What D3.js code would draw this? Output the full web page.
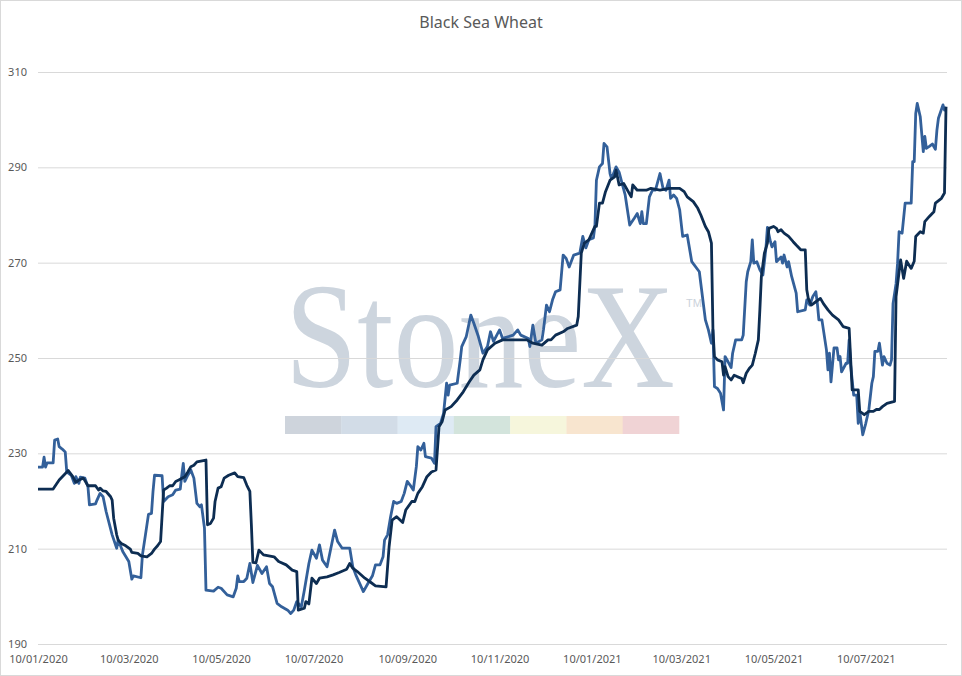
<!DOCTYPE html>
<html>
<head>
<meta charset="utf-8">
<script src="https://cdn.jsdelivr.net/npm/d3@7"></script>
<style>
  html, body { margin: 0; padding: 0; background: #fff; }
  svg { display: block; }
</style>
</head>
<body>
<div id="chart"></div>
<script>
// Black Sea Wheat — two series
const chartTitle = "Black Sea Wheat";

const yTicks = [190, 210, 230, 250, 270, 290, 310];
const xTickLabels = ["10/01/2020", "10/03/2020", "10/05/2020", "10/07/2020", "10/09/2020",
    "10/11/2020", "10/01/2021", "10/03/2021", "10/05/2021", "10/07/2021"];
const dateRange = ["2020-01-10", "2021-09-01"];

// lighter blue series
const blueSeries = [
    ["2020-01-10", 227.1], ["2020-01-13", 227.1], ["2020-01-14", 229.2], ["2020-01-15", 227.1],
    ["2020-01-16", 228], ["2020-01-20", 228], ["2020-01-21", 232.8], ["2020-01-23", 233],
    ["2020-01-24", 231.4], ["2020-01-26", 230.9], ["2020-01-28", 230.3], ["2020-01-29", 226.1],
    ["2020-02-01", 225.4], ["2020-02-03", 223.7], ["2020-02-04", 225.1], ["2020-02-06", 223.7],
    ["2020-02-07", 225], ["2020-02-10", 224.8], ["2020-02-12", 223], ["2020-02-13", 219.2],
    ["2020-02-17", 219.4], ["2020-02-18", 220.2], ["2020-02-20", 221.6], ["2020-02-22", 220.9],
    ["2020-02-24", 217.8], ["2020-02-28", 212.9], ["2020-03-02", 210.1], ["2020-03-03", 211.8],
    ["2020-03-06", 209.4], ["2020-03-10", 207.3], ["2020-03-12", 203.6], ["2020-03-13", 204.3],
    ["2020-03-18", 203.9], ["2020-03-19", 208.7], ["2020-03-21", 212.9], ["2020-03-23", 217.2],
    ["2020-03-25", 217.4], ["2020-03-26", 222], ["2020-03-27", 225.4], ["2020-04-01", 225.3],
    ["2020-04-02", 219.9], ["2020-04-05", 220.9], ["2020-04-08", 221.3], ["2020-04-10", 222.3],
    ["2020-04-13", 222.5], ["2020-04-14", 225.4], ["2020-04-15", 227.9], ["2020-04-16", 224.1],
    ["2020-04-18", 225.4], ["2020-04-20", 226.5], ["2020-04-22", 224.8], ["2020-04-24", 219.5],
    ["2020-04-26", 218.8], ["2020-04-27", 219.2], ["2020-04-29", 214.3], ["2020-04-30", 201.3],
    ["2020-05-05", 201.1], ["2020-05-08", 201.9], ["2020-05-10", 201.7], ["2020-05-14", 200.3],
    ["2020-05-18", 199.9], ["2020-05-20", 201.7], ["2020-05-21", 204.3], ["2020-05-22", 203.1],
    ["2020-05-25", 203.1], ["2020-05-27", 203.8], ["2020-05-29", 206.9], ["2020-05-31", 202.9],
    ["2020-06-03", 206.5], ["2020-06-06", 204.8], ["2020-06-09", 206.2], ["2020-06-11", 202.7],
    ["2020-06-13", 202], ["2020-06-16", 198.5], ["2020-06-19", 197.8], ["2020-06-23", 197.1],
    ["2020-06-25", 196.4], ["2020-06-27", 197.1], ["2020-06-29", 198.9], ["2020-07-02", 197.8],
    ["2020-07-04", 201.3], ["2020-07-07", 206.9], ["2020-07-09", 209.7], ["2020-07-12", 208],
    ["2020-07-14", 210.8], ["2020-07-16", 207.6], ["2020-07-19", 206.2], ["2020-07-24", 213.9],
    ["2020-07-26", 211.5], ["2020-07-29", 210.1], ["2020-08-03", 210.1], ["2020-08-05", 206.2],
    ["2020-08-07", 204.5], ["2020-08-10", 202.4], ["2020-08-12", 201], ["2020-08-15", 202.7],
    ["2020-08-18", 204.3], ["2020-08-20", 206.6], ["2020-08-23", 206.6], ["2020-08-25", 208.3],
    ["2020-08-26", 211.8], ["2020-08-28", 212.9], ["2020-08-30", 216.7], ["2020-09-01", 219.9],
    ["2020-09-03", 219.5], ["2020-09-06", 219.9], ["2020-09-08", 221.6], ["2020-09-10", 224.1],
    ["2020-09-12", 223.3], ["2020-09-14", 222.3], ["2020-09-16", 227.2], ["2020-09-17", 231.4],
    ["2020-09-19", 230.7], ["2020-09-21", 232.1], ["2020-09-22", 229.3], ["2020-09-26", 229],
    ["2020-09-28", 227.9], ["2020-09-29", 235.6], ["2020-10-02", 236.3], ["2020-10-04", 238.4],
    ["2020-10-06", 244.7], ["2020-10-07", 242.2], ["2020-10-08", 244.3], ["2020-10-13", 244.7],
    ["2020-10-15", 249.6], ["2020-10-16", 252.4], ["2020-10-19", 254.5], ["2020-10-22", 259],
    ["2020-10-24", 257.3], ["2020-10-27", 254.5], ["2020-10-30", 251], ["2020-11-02", 252.4],
    ["2020-11-04", 255.5], ["2020-11-06", 253.5], ["2020-11-10", 255.9], ["2020-11-12", 254.1],
    ["2020-11-19", 254.8], ["2020-11-22", 255.9], ["2020-11-24", 254.8], ["2020-11-29", 254.1],
    ["2020-11-30", 252.4], ["2020-12-02", 256.9], ["2020-12-04", 253.1], ["2020-12-08", 253.8],
    ["2020-12-09", 255.9], ["2020-12-11", 261.1], ["2020-12-13", 259.7], ["2020-12-15", 262.2],
    ["2020-12-17", 263.9], ["2020-12-20", 264.3], ["2020-12-22", 271.6], ["2020-12-24", 270.9],
    ["2020-12-26", 269.1], ["2020-12-29", 271.6], ["2021-01-02", 272], ["2021-01-04", 275.5],
    ["2021-01-06", 273.1], ["2021-01-08", 274.8], ["2021-01-11", 275.2], ["2021-01-12", 277.6],
    ["2021-01-13", 287.3], ["2021-01-15", 290.1], ["2021-01-17", 290.8], ["2021-01-18", 295],
    ["2021-01-20", 294.3], ["2021-01-22", 288.7], ["2021-01-23", 287.6], ["2021-01-26", 290.1],
    ["2021-01-28", 289], ["2021-01-30", 286.6], ["2021-02-01", 284.2], ["2021-02-03", 280],
    ["2021-02-04", 277.9], ["2021-02-07", 279.3], ["2021-02-09", 280.3], ["2021-02-11", 278.2],
    ["2021-02-12", 280.7], ["2021-02-13", 278.2], ["2021-02-15", 278.2], ["2021-02-17", 283.8],
    ["2021-02-19", 285.2], ["2021-02-21", 285.2], ["2021-02-24", 288.7], ["2021-02-26", 285.6],
    ["2021-02-28", 285.2], ["2021-03-02", 287.3], ["2021-03-03", 283.5], ["2021-03-05", 284.2],
    ["2021-03-07", 283.5], ["2021-03-09", 281.1], ["2021-03-11", 275.5], ["2021-03-14", 275.8],
    ["2021-03-17", 270.2], ["2021-03-22", 268.1], ["2021-03-26", 258], ["2021-03-28", 255.9],
    ["2021-03-30", 253.1], ["2021-03-31", 255.9], ["2021-04-01", 244], ["2021-04-03", 243.6],
    ["2021-04-05", 242.6], ["2021-04-07", 239.1], ["2021-04-08", 250.3], ["2021-04-10", 249.2],
    ["2021-04-12", 248], ["2021-04-13", 251], ["2021-04-15", 253.8], ["2021-04-19", 253.8],
    ["2021-04-20", 254.8], ["2021-04-22", 266], ["2021-04-23", 268.1], ["2021-04-25", 270.2],
    ["2021-04-26", 274.8], ["2021-04-27", 269.9], ["2021-04-29", 270.2], ["2021-05-01", 268.5],
    ["2021-05-03", 267.4], ["2021-05-05", 273], ["2021-05-06", 277.4], ["2021-05-08", 274.4],
    ["2021-05-09", 273.3], ["2021-05-11", 274.4], ["2021-05-12", 270.2], ["2021-05-15", 271.2],
    ["2021-05-16", 269.9], ["2021-05-17", 271.6], ["2021-05-19", 269.1], ["2021-05-20", 270.2],
    ["2021-05-22", 267.1], ["2021-05-25", 263.6], ["2021-05-26", 259.7], ["2021-05-31", 260.1],
    ["2021-06-01", 262.2], ["2021-06-03", 261.1], ["2021-06-05", 262.9], ["2021-06-07", 263.9],
    ["2021-06-08", 261.4], ["2021-06-09", 258], ["2021-06-11", 258], ["2021-06-12", 255.9],
    ["2021-06-14", 251.7], ["2021-06-15", 247.5], ["2021-06-16", 251], ["2021-06-17", 245],
    ["2021-06-19", 252.1], ["2021-06-21", 252.1], ["2021-06-22", 249.6], ["2021-06-23", 250.3],
    ["2021-06-24", 247.1], ["2021-06-27", 248.9], ["2021-06-28", 248.9], ["2021-06-29", 253.8],
    ["2021-06-30", 248.5], ["2021-07-02", 242.2], ["2021-07-04", 242.2], ["2021-07-05", 236.3],
    ["2021-07-06", 238.8], ["2021-07-08", 233.9], ["2021-07-10", 236.3], ["2021-07-12", 239.1],
    ["2021-07-14", 244.7], ["2021-07-15", 246.1], ["2021-07-16", 251.4], ["2021-07-18", 251.4],
    ["2021-07-19", 253.1], ["2021-07-21", 248.5], ["2021-07-22", 250.3], ["2021-07-24", 248.9],
    ["2021-07-26", 248.5], ["2021-07-27", 249.6], ["2021-07-28", 261.4], ["2021-07-30", 265.6],
    ["2021-07-31", 269.9], ["2021-08-01", 276.5], ["2021-08-03", 276.2], ["2021-08-05", 282.5],
    ["2021-08-09", 282.5], ["2021-08-10", 291.2], ["2021-08-11", 291.2], ["2021-08-12", 301.3],
    ["2021-08-13", 303.4], ["2021-08-15", 300.6], ["2021-08-17", 293.3], ["2021-08-18", 296.5],
    ["2021-08-19", 294], ["2021-08-21", 294.4], ["2021-08-23", 294.9], ["2021-08-25", 293.8],
    ["2021-08-26", 297.8], ["2021-08-27", 300.3], ["2021-08-30", 303.1], ["2021-08-31", 302],
    ["2021-09-01", 302.7]
];

// dark navy series
const navySeries = [
    ["2020-01-10", 222.5], ["2020-01-20", 222.5], ["2020-01-24", 224.4], ["2020-01-27", 225.4],
    ["2020-01-30", 226.4], ["2020-02-02", 225.1], ["2020-02-04", 223.9], ["2020-02-06", 224.4],
    ["2020-02-09", 224.8], ["2020-02-12", 223.2], ["2020-02-17", 223.2], ["2020-02-19", 222.3],
    ["2020-02-20", 222.7], ["2020-02-22", 222.1], ["2020-02-24", 222], ["2020-02-27", 220.9],
    ["2020-02-28", 220.2], ["2020-02-29", 216.4], ["2020-03-02", 212.9], ["2020-03-03", 211.8],
    ["2020-03-05", 211.1], ["2020-03-08", 210.6], ["2020-03-11", 209.9], ["2020-03-12", 209.2],
    ["2020-03-16", 209], ["2020-03-18", 208.5], ["2020-03-22", 208.3], ["2020-03-25", 209],
    ["2020-03-27", 209.9], ["2020-03-29", 210.6], ["2020-03-31", 211.5], ["2020-04-02", 222.3],
    ["2020-04-04", 222.7], ["2020-04-06", 223.2], ["2020-04-08", 223.2], ["2020-04-10", 224.1],
    ["2020-04-12", 224.4], ["2020-04-16", 225.1], ["2020-04-18", 226.1], ["2020-04-20", 227.2],
    ["2020-04-22", 227.5], ["2020-04-24", 228.2], ["2020-04-30", 228.6], ["2020-05-01", 215],
    ["2020-05-03", 215.3], ["2020-05-05", 216.4], ["2020-05-06", 219.9], ["2020-05-08", 222.7],
    ["2020-05-10", 223], ["2020-05-12", 224.8], ["2020-05-15", 225.4], ["2020-05-19", 225.9],
    ["2020-05-21", 225.1], ["2020-05-25", 224.9], ["2020-05-27", 223.3], ["2020-05-29", 222],
    ["2020-05-30", 215], ["2020-05-31", 207.1], ["2020-06-02", 207], ["2020-06-04", 209.7],
    ["2020-06-07", 208.7], ["2020-06-14", 208.3], ["2020-06-17", 207.3], ["2020-06-22", 206.6],
    ["2020-06-26", 205.5], ["2020-06-29", 205.2], ["2020-06-30", 197.1], ["2020-07-04", 197.5],
    ["2020-07-05", 198.9], ["2020-07-07", 198.4], ["2020-07-09", 203.8], ["2020-07-12", 202.7],
    ["2020-07-14", 203.8], ["2020-07-19", 204.1], ["2020-07-23", 204.5], ["2020-07-27", 205],
    ["2020-08-01", 205.7], ["2020-08-03", 206.9], ["2020-08-05", 205.9], ["2020-08-08", 205.2],
    ["2020-08-13", 203.8], ["2020-08-17", 202.9], ["2020-08-20", 202.2], ["2020-08-27", 202],
    ["2020-08-29", 210.4], ["2020-08-31", 216], ["2020-09-03", 216.7], ["2020-09-07", 215.5],
    ["2020-09-09", 218.1], ["2020-09-13", 219.9], ["2020-09-15", 219.9], ["2020-09-17", 221.6],
    ["2020-09-20", 223], ["2020-09-23", 225.1], ["2020-09-26", 226.1], ["2020-09-29", 226.5],
    ["2020-10-01", 235.6], ["2020-10-03", 236.6], ["2020-10-05", 239.1], ["2020-10-09", 239.8],
    ["2020-10-13", 241.2], ["2020-10-17", 242.9], ["2020-10-21", 245], ["2020-10-24", 246.4],
    ["2020-10-28", 247.5], ["2020-10-30", 249.6], ["2020-11-02", 251.7], ["2020-11-07", 253.1],
    ["2020-11-12", 253.8], ["2020-11-28", 253.8], ["2020-12-02", 253.1], ["2020-12-08", 252.7],
    ["2020-12-12", 253.8], ["2020-12-14", 253.8], ["2020-12-17", 254.8], ["2020-12-22", 255.5],
    ["2020-12-25", 256.2], ["2020-12-31", 256.9], ["2021-01-01", 258.7], ["2021-01-03", 272],
    ["2021-01-05", 274.1], ["2021-01-08", 274.8], ["2021-01-12", 277.6], ["2021-01-13", 277.6],
    ["2021-01-15", 282.5], ["2021-01-17", 282.5], ["2021-01-19", 284.9], ["2021-01-22", 287.3],
    ["2021-01-25", 288], ["2021-01-26", 289.4], ["2021-01-28", 286.3], ["2021-01-31", 286.6],
    ["2021-02-05", 283.8], ["2021-02-06", 286.3], ["2021-02-09", 285.2], ["2021-02-15", 285.2],
    ["2021-02-18", 285.6], ["2021-02-24", 285.2], ["2021-03-02", 285.6], ["2021-03-09", 285.6],
    ["2021-03-12", 284.9], ["2021-03-14", 283.8], ["2021-03-18", 282.8], ["2021-03-21", 281.4],
    ["2021-03-23", 280], ["2021-03-26", 277.6], ["2021-03-28", 276.5], ["2021-03-30", 274.1],
    ["2021-03-31", 255.9], ["2021-04-01", 250.3], ["2021-04-03", 249.6], ["2021-04-06", 249.2],
    ["2021-04-07", 246.4], ["2021-04-08", 248.2], ["2021-04-10", 246.1], ["2021-04-12", 245.4],
    ["2021-04-14", 246.4], ["2021-04-16", 246.1], ["2021-04-19", 245.7], ["2021-04-20", 244.8],
    ["2021-04-22", 246.8], ["2021-04-24", 247.8], ["2021-04-26", 248.5], ["2021-04-28", 251],
    ["2021-04-30", 253.8], ["2021-05-01", 260.1], ["2021-05-02", 267.1], ["2021-05-04", 272],
    ["2021-05-06", 274.1], ["2021-05-07", 277.2], ["2021-05-10", 277.6], ["2021-05-12", 277.2],
    ["2021-05-13", 276.5], ["2021-05-15", 276.9], ["2021-05-17", 276.2], ["2021-05-20", 275.5],
    ["2021-05-23", 274.4], ["2021-05-25", 273.7], ["2021-05-28", 272.7], ["2021-05-31", 272.7],
    ["2021-06-01", 264.3], ["2021-06-02", 262.5], ["2021-06-04", 261.1], ["2021-06-07", 261.8],
    ["2021-06-10", 262.5], ["2021-06-12", 261.4], ["2021-06-15", 260.1], ["2021-06-18", 259],
    ["2021-06-22", 258], ["2021-06-25", 256.6], ["2021-06-29", 256.2], ["2021-07-01", 243.3],
    ["2021-07-05", 243.3], ["2021-07-06", 238.8], ["2021-07-09", 238.1], ["2021-07-12", 238.8],
    ["2021-07-15", 238.8], ["2021-07-17", 239.2], ["2021-07-19", 239.2], ["2021-07-21", 239.8],
    ["2021-07-24", 240.5], ["2021-07-29", 240.9], ["2021-07-30", 262.9], ["2021-08-02", 270.6],
    ["2021-08-04", 266.7], ["2021-08-06", 270.3], ["2021-08-09", 268.8], ["2021-08-11", 270.3],
    ["2021-08-12", 275.5], ["2021-08-15", 276.5], ["2021-08-17", 276.2], ["2021-08-18", 278.6],
    ["2021-08-21", 279.7], ["2021-08-24", 280.7], ["2021-08-25", 282.5], ["2021-08-29", 283.5],
    ["2021-08-31", 284.6], ["2021-09-01", 302.7]
];

// watermark colour strip
const stripColors = ["#ced4dc", "#d2dce7", "#deeaf4", "#d3e4dc", "#f6f6dc", "#f8e5cf", "#f0d3d5"];

const W = 962, H = 676;
const plot = {left: 38, right: 946, top: 72, bottom: 644};

const parseIso = d3.timeParse("%Y-%m-%d");
const parseLabel = d3.timeParse("%d/%m/%Y");
const fmtLabel = d3.timeFormat("%d/%m/%Y");

const svg = d3.select("#chart").append("svg")
    .attr("width", W)
    .attr("height", H)
    .attr("viewBox", `0 0 ${W} ${H}`);

svg.append("rect")
    .attr("x", 0.5).attr("y", 0.5)
    .attr("width", W - 1).attr("height", H - 1)
    .attr("fill", "#fff")
    .attr("stroke", "#d9d9d9");

const x = d3.scaleTime()
    .domain(dateRange.map(parseIso))
    .range([plot.left, plot.right]);

const y = d3.scaleLinear()
    .domain([yTicks[0], yTicks[yTicks.length - 1]])
    .range([plot.bottom, plot.top]);

// watermark (sits behind gridlines) — serif word stretched a bit taller
const wm = svg.append("g").attr("class", "watermark");
wm.append("text")
    .attr("transform", "translate(285,387) scale(1,1.16)")
    .attr("font-family", "'Liberation Serif', 'DejaVu Serif', serif")
    .attr("font-size", 130)
    .attr("fill", "#cdd5de")
    .text("StoneX");
wm.append("text")
    .attr("x", 686).attr("y", 307)
    .attr("font-family", "'Liberation Sans', Arial, sans-serif")
    .attr("font-size", 11)
    .attr("fill", "#cbd2db")
    .text("TM");
const stripW = (679 - 285) / stripColors.length;
wm.selectAll("rect")
    .data(stripColors)
    .join("rect")
    .attr("x", (d, i) => 285 + i * stripW)
    .attr("y", 416)
    .attr("width", stripW + 0.3)
    .attr("height", 18)
    .attr("fill", d => d);

// y axis with gridlines
const yAxisG = svg.append("g")
    .attr("transform", `translate(${plot.left},0)`)
    .call(d3.axisLeft(y).tickValues(yTicks).tickSize(-(plot.right - plot.left + 1)).tickPadding(11));
yAxisG.select(".domain").remove();
yAxisG.selectAll(".tick line").attr("stroke", "#d9d9d9");
yAxisG.selectAll(".tick text")
    .attr("fill", "#595959")
    .attr("font-family", "'Noto Sans', sans-serif")
    .attr("font-size", 11);

// x axis labels
const xAxisG = svg.append("g")
    .attr("transform", `translate(0,${plot.bottom})`)
    .call(d3.axisBottom(x).tickValues(xTickLabels.map(parseLabel)).tickFormat(fmtLabel).tickSize(0).tickPadding(11));
xAxisG.select(".domain").remove();
xAxisG.selectAll(".tick text")
    .attr("fill", "#595959")
    .attr("font-family", "'Noto Sans', sans-serif")
    .attr("font-size", 11);

// title
svg.append("text")
    .attr("x", 481).attr("y", 28)
    .attr("text-anchor", "middle")
    .attr("font-family", "'Noto Sans', sans-serif")
    .attr("font-size", 16)
    .attr("fill", "#595959")
    .text(chartTitle);

// lines
const lineGen = d3.line()
    .x(d => x(parseIso(d[0])))
    .y(d => y(d[1]));

svg.append("path")
    .datum(blueSeries)
    .attr("d", lineGen)
    .attr("fill", "none")
    .attr("stroke", "#33609a")
    .attr("stroke-width", 2.8)
    .attr("stroke-linejoin", "round");

svg.append("path")
    .datum(navySeries)
    .attr("d", lineGen)
    .attr("fill", "none")
    .attr("stroke", "#0d2d52")
    .attr("stroke-width", 2.8)
    .attr("stroke-linejoin", "round");
</script>
</body>
</html>
